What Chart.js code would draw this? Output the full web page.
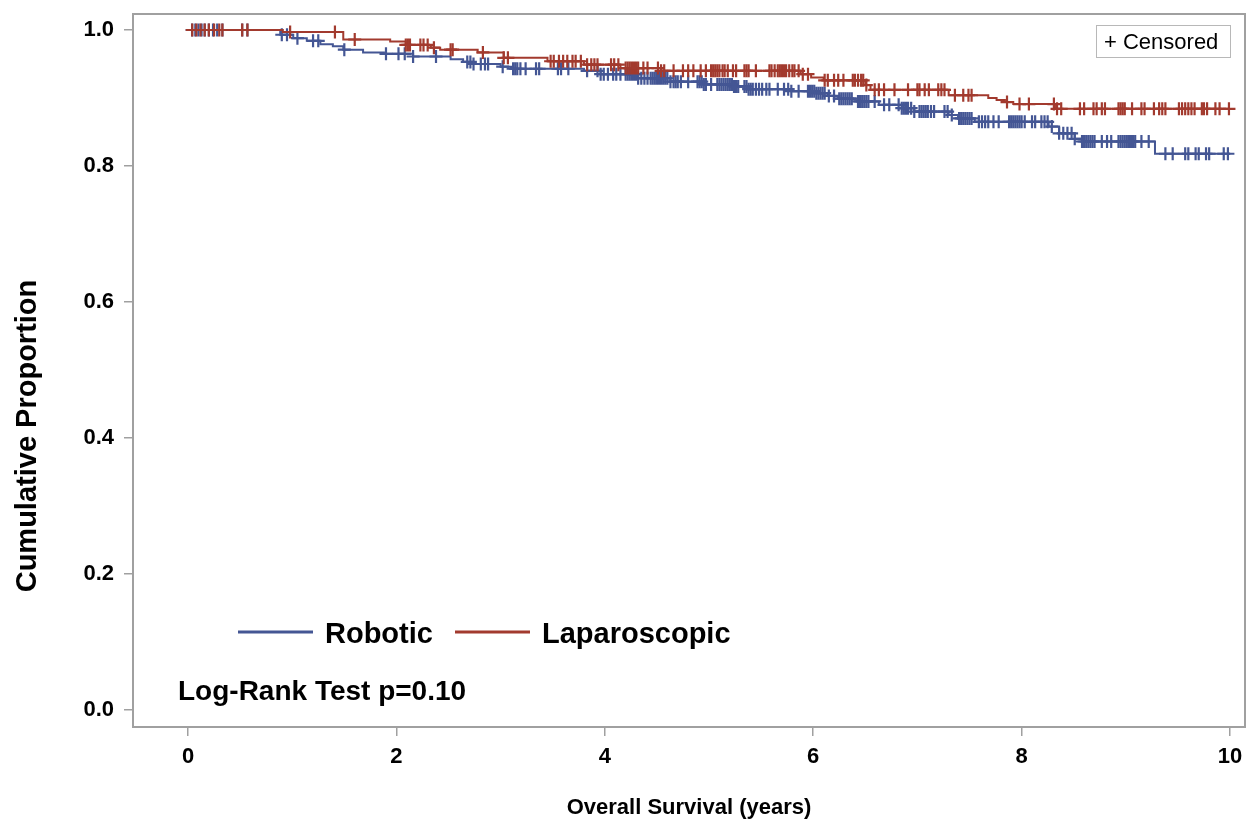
<!DOCTYPE html>
<html>
<head>
<meta charset="utf-8">
<script src="https://cdn.jsdelivr.net/npm/chart.js@4.4.1/dist/chart.umd.min.js"></script>
<style>
  body { margin: 0; background: #fff; }
  #wrap { width: 1260px; height: 836px; }
</style>
</head>
<body>
<div id="wrap"><canvas id="km"></canvas></div>
<script>
// Kaplan-Meier steps (years, survival after the event)
const roboticTime = [0, 0.885, 1.01, 1.14, 1.27, 1.39, 1.49, 1.68, 1.88, 2.16, 2.52, 2.64, 2.74, 3.0, 3.1, 3.8, 3.96, 4.32, 4.63, 4.95, 5.24, 5.38, 5.79, 6.03, 6.14, 6.24, 6.43, 6.63, 6.85, 6.97, 7.30, 7.39, 7.55, 8.26, 8.36, 8.51, 8.58, 9.28, 10.0];
const roboticSurv = [1.0, 0.993, 0.988, 0.984, 0.979, 0.976, 0.971, 0.967, 0.965, 0.961, 0.957, 0.953, 0.950, 0.946, 0.943, 0.940, 0.935, 0.929, 0.924, 0.920, 0.917, 0.913, 0.910, 0.907, 0.903, 0.899, 0.895, 0.890, 0.885, 0.880, 0.875, 0.870, 0.865, 0.858, 0.848, 0.840, 0.836, 0.818, 0.818];

const lapTime = [0, 0.91, 1.49, 1.94, 2.09, 2.33, 2.42, 2.78, 3.03, 3.45, 3.80, 4.15, 4.54, 5.88, 5.98, 6.10, 6.50, 6.55, 7.30, 7.68, 7.76, 7.84, 7.92, 8.32, 10.0];
const lapSurv = [1.0, 0.997, 0.986, 0.983, 0.978, 0.974, 0.971, 0.967, 0.959, 0.954, 0.949, 0.944, 0.940, 0.935, 0.930, 0.926, 0.919, 0.912, 0.904, 0.900, 0.897, 0.894, 0.891, 0.884, 0.884];

// censoring times (years)
const roboticCensor = [0.04,0.07,0.1,0.13,0.16,0.2,0.24,0.28,0.33,0.52,0.57,0.9,0.95,1.05,1.2,1.25,1.5,1.9,2.02,2.08,2.16,
  2.38,2.68,2.71,2.74,2.81,2.85,2.88,3.02,3.12,3.14,3.16,3.19,3.24,3.34,3.37,3.55,3.58,3.65,3.83,3.93,3.96,3.99,4.03,4.08,4.11,4.15,
  4.2,4.22,4.24,4.26,4.28,4.3,4.32,4.35,4.38,4.41,4.44,4.46,4.48,4.5,4.52,4.54,4.56,4.58,4.6,4.63,4.66,4.68,4.7,4.73,4.8,
  4.89,4.91,4.93,4.95,4.97,5.02,5.08,5.1,5.12,5.14,5.16,5.18,5.2,5.22,5.24,5.26,5.28,5.34,5.36,5.38,5.4,5.42,5.45,5.48,5.51,5.55,5.58,
  5.66,5.72,5.76,5.79,5.86,5.95,5.97,5.99,6.01,6.03,6.05,6.07,6.09,6.11,6.15,6.2,6.25,6.27,6.29,6.31,6.33,6.35,6.37,
  6.43,6.45,6.47,6.49,6.51,6.53,6.59,6.68,6.73,6.82,6.85,6.87,6.89,6.91,6.94,6.97,7.02,7.04,7.06,7.08,7.1,7.13,7.16,
  7.26,7.29,7.33,7.40,7.42,7.44,7.46,7.48,7.5,7.52,7.59,7.62,7.65,7.68,7.73,7.78,7.88,7.9,7.92,7.94,7.96,7.98,8.0,8.03,
  8.1,8.13,8.19,8.22,8.25,8.29,8.36,8.4,8.44,8.48,8.51,8.58,8.6,8.62,8.64,8.66,8.68,8.7,8.77,8.82,8.86,
  8.93,8.95,8.97,8.99,9.01,9.03,9.05,9.07,9.09,9.15,9.22,9.38,9.45,9.57,9.6,9.67,9.7,9.77,9.8,9.94,9.98];
const lapCensor = [0.04,0.08,0.12,0.16,0.2,0.25,0.3,0.33,0.52,0.57,0.98,1.41,1.6,2.09,2.11,2.13,2.23,2.26,2.3,2.36,2.52,2.54,
  2.83,3.03,3.07,3.48,3.51,3.56,3.6,3.64,3.69,3.72,3.77,3.83,3.87,3.9,3.93,4.06,4.09,4.13,4.2,4.22,4.24,4.26,4.28,4.3,4.32,
  4.37,4.41,4.51,4.54,4.57,4.66,4.75,4.8,4.85,4.92,4.97,5.02,5.04,5.06,5.08,5.1,5.13,5.15,5.18,5.23,5.26,5.34,5.36,5.38,5.45,
  5.58,5.6,5.63,5.66,5.68,5.7,5.72,5.74,5.77,5.8,5.82,5.86,5.9,5.95,6.11,6.14,6.2,6.24,6.29,6.38,6.4,6.43,6.46,6.48,6.51,
  6.59,6.63,6.68,6.78,6.91,7.0,7.02,7.07,7.11,7.2,7.23,7.26,7.36,7.44,7.49,7.52,7.86,7.98,8.07,8.31,8.34,8.38,8.56,8.6,
  8.69,8.72,8.77,8.8,8.93,8.95,8.97,8.99,9.06,9.15,9.18,9.27,9.32,9.35,9.38,9.51,9.54,9.57,9.6,9.63,9.66,9.73,9.75,9.78,
  9.86,9.9,9.99];

const xTicks = [0, 2, 4, 6, 8, 10];
const yTicks = [0, 0.2, 0.4, 0.6, 0.8, 1.0];

const BLUE = '#445694';
const RED = '#A23A2E';
const FONT = "'Liberation Sans', Arial, sans-serif";

function steps(times, surv) {
  return times.map((t, i) => ({x: t, y: surv[i]}));
}
// survival value at time t
function survAt(times, surv, t) {
  let s = surv[0];
  for (let i = 0; i < times.length; i++) {
    if (times[i] <= t) s = surv[i]; else break;
  }
  return s;
}
function marks(cens, times, surv) {
  return cens.map(t => ({x: t, y: survAt(times, surv, t)}));
}

const overlay = {
  id: 'overlay',
  afterDraw(chart) {
    const {ctx, chartArea: a} = chart;
    ctx.save();
    // frame
    ctx.strokeStyle = '#a0a0a0';
    ctx.lineWidth = 2;
    ctx.strokeRect(a.left, a.top, a.right - a.left, a.bottom - a.top);

    // censored box
    ctx.strokeStyle = '#b8b8b8';
    ctx.lineWidth = 1;
    ctx.strokeRect(1096.5, 25.5, 134, 32);
    ctx.fillStyle = '#000';
    ctx.font = '22px ' + FONT;
    ctx.textBaseline = 'alphabetic';
    ctx.textAlign = 'left';
    ctx.fillText('+ Censored', 1104, 49);

    // legend
    ctx.lineWidth = 3;
    ctx.strokeStyle = BLUE;
    ctx.beginPath(); ctx.moveTo(238, 632); ctx.lineTo(313, 632); ctx.stroke();
    ctx.strokeStyle = RED;
    ctx.beginPath(); ctx.moveTo(455, 632); ctx.lineTo(530, 632); ctx.stroke();
    ctx.font = 'bold 29px ' + FONT;
    ctx.fillText('Robotic', 325, 643);
    ctx.fillText('Laparoscopic', 542, 643);

    ctx.font = 'bold 28px ' + FONT;
    ctx.fillText('Log-Rank Test p=0.10', 178, 700);

    // y axis title
    ctx.translate(28, 436);
    ctx.rotate(-Math.PI / 2);
    ctx.textAlign = 'center';
    ctx.textBaseline = 'middle';
    ctx.font = 'bold 29px ' + FONT;
    ctx.fillText('Cumulative Proportion', 0, 0);
    ctx.restore();
  }
};

new Chart(document.getElementById('km'), {
  type: 'scatter',
  data: {
    datasets: [
      {
        label: 'Laparoscopic censored',
        data: marks(lapCensor, lapTime, lapSurv),
        showLine: false,
        pointStyle: 'cross',
        pointRadius: 6.5,
        pointBorderWidth: 2.2,
        borderColor: RED,
        backgroundColor: RED,
        order: 1
      },
      {
        label: 'Laparoscopic',
        data: steps(lapTime, lapSurv),
        showLine: true,
        stepped: 'before',
        borderColor: RED,
        borderWidth: 2,
        pointRadius: 0,
        order: 2
      },
      {
        label: 'Robotic censored',
        data: marks(roboticCensor, roboticTime, roboticSurv),
        showLine: false,
        pointStyle: 'cross',
        pointRadius: 6.5,
        pointBorderWidth: 2.2,
        borderColor: BLUE,
        backgroundColor: BLUE,
        order: 3
      },
      {
        label: 'Robotic',
        data: steps(roboticTime, roboticSurv),
        showLine: true,
        stepped: 'before',
        borderColor: BLUE,
        borderWidth: 2,
        pointRadius: 0,
        order: 4
      }
    ]
  },
  options: {
    responsive: true,
    maintainAspectRatio: false,
    animation: false,
    layout: { padding: { top: 14, right: 15, left: 0, bottom: 0 } },
    plugins: {
      legend: { display: false },
      tooltip: { enabled: false }
    },
    scales: {
      x: {
        type: 'linear',
        min: -0.528,
        max: 10.144,
        afterBuildTicks: s => { s.ticks = xTicks.map(v => ({value: v})); },
        afterFit: s => { s.height = 109; s.paddingLeft = 0; s.paddingRight = 0; },
        grid: { drawOnChartArea: false, drawTicks: true, tickLength: 9, color: '#a0a0a0', lineWidth: 1.5 },
        border: { display: true, color: '#a0a0a0', width: 2 },
        ticks: {
          color: '#000',
          padding: 8,
          font: { family: FONT, size: 22, weight: 'bold' },
          callback: v => String(v)
        },
        title: {
          display: true,
          text: 'Overall Survival (years)',
          color: '#000',
          font: { family: FONT, size: 22, weight: 'bold' },
          padding: { top: 0, bottom: 15 }
        }
      },
      y: {
        type: 'linear',
        min: -0.025,
        max: 1.0235,
        afterBuildTicks: s => { s.ticks = yTicks.map(v => ({value: v})); },
        afterFit: s => { s.width = 133; s.paddingTop = 0; s.paddingBottom = 0; },
        grid: { drawOnChartArea: false, drawTicks: true, tickLength: 9, color: '#a0a0a0', lineWidth: 1.5 },
        border: { display: true, color: '#a0a0a0', width: 2 },
        ticks: {
          color: '#000',
          padding: 10,
          font: { family: FONT, size: 22, weight: 'bold' },
          callback: v => v.toFixed(1)
        }
      }
    }
  },
  plugins: [overlay]
});
</script>
</body>
</html>
